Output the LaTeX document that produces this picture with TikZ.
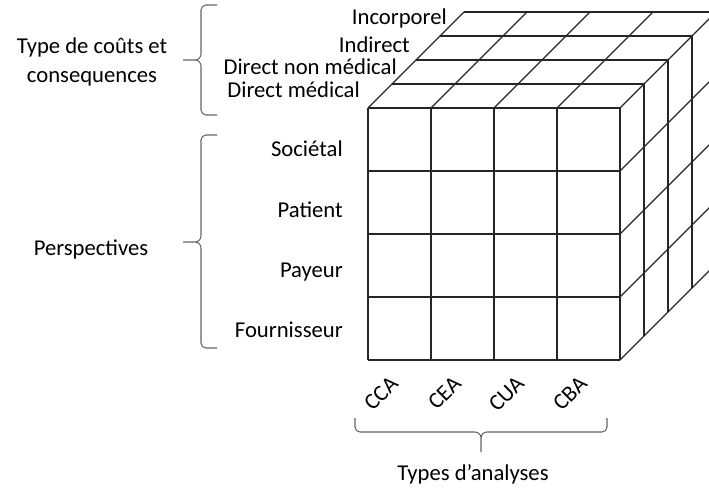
\documentclass[tikz,border=0pt]{standalone}
\usepackage{fontspec}
\setmainfont{Carlito}
\tikzstyle{cube}=[draw=black!85,line width=0.9pt]
\tikzstyle{lbl}=[font=\fontsize{17}{21.75}\selectfont,inner sep=0pt]
\tikzstyle{brc}=[draw=black!60,line width=0.8pt]
\begin{document}
\begin{tikzpicture}[x=0.75pt,y=-0.75pt]
\useasboundingbox (0,0) rectangle (709,487);
\clip (0,0) rectangle (709,487);
% front face
\foreach \i in {0,...,4}{
  \draw[cube] (368+63*\i,108) -- (368+63*\i,360);
  \draw[cube] (368,108+63*\i) -- (620,108+63*\i);
}
% top face
\foreach \k in {1,...,4}
  \draw[cube] (368+24*\k,108-24*\k) -- (620+24*\k,108-24*\k);
\foreach \i in {0,...,4}
  \draw[cube] (368+63*\i,108) -- (464+63*\i,12);
% right face
\foreach \k in {1,...,4}
  \draw[cube] (620+24*\k,108-24*\k) -- (620+24*\k,360-24*\k);
\foreach \j in {1,...,4}
  \draw[cube] (620,108+63*\j) -- (716,12+63*\j);
% cost types
\foreach \name/\txt/\x/\y in {inc/Incorporel/447/24, ind/Indirect/410/52,
    dnm/Direct non médical/397/74, dm/Direct médical/360/97}
  \node[lbl,anchor=base east] (\name) at (\x,\y) {\txt};
% perspectives
\foreach \name/\txt/\y in {soc/Sociétal/156, pat/Patient/217, pay/Payeur/277, fou/Fournisseur/337}
  \node[lbl,anchor=base east] (\name) at (343,\y) {\txt};
% analyses
\foreach \name/\txt/\x in {cca/CCA/399.5, cea/CEA/462.5, cua/CUA/525.5, cba/CBA/588.5}
  \node[lbl,anchor=base east,rotate=45] (\name) at (\x,385) {\txt};
% braces
\coordinate (b1s) at (217,5);
\coordinate (b1e) at (217,115);
\coordinate (b2s) at (217,135);
\coordinate (b2e) at (217,348);
\coordinate (b3s) at (355,418);
\coordinate (b3e) at (607,418);
\draw[brc] (b1s) -- (206,5) to[out=180,in=90] (201,10) -- (201,54)
  to[out=-90,in=0] (195,60) -- (183,60) -- (195,60) to[out=0,in=90] (201,66)
  -- (201,110) to[out=-90,in=180] (206,115) -- (b1e);
\draw[brc] (b2s) -- (206,135) to[out=180,in=90] (201,140) -- (201,236)
  to[out=-90,in=0] (195,242) -- (183,242) -- (195,242) to[out=0,in=90] (201,248)
  -- (201,343) to[out=-90,in=180] (206,348) -- (b2e);
\draw[brc] (b3s) -- (355,427) to[out=-90,in=180] (360,432) -- (475,432)
  to[out=0,in=90] (481,438) -- (481,452) -- (481,438) to[out=90,in=180] (487,432)
  -- (602,432) to[out=0,in=-90] (607,427) -- (b3e);
\node[lbl,align=center] (couts) at (92,62) {Type de coûts et\\consequences};
\node[lbl,anchor=base] (persp) at (91,255) {Perspectives};
\node[lbl,anchor=base] (types) at (473,480) {Types d’analyses};
\end{tikzpicture}
\end{document}
